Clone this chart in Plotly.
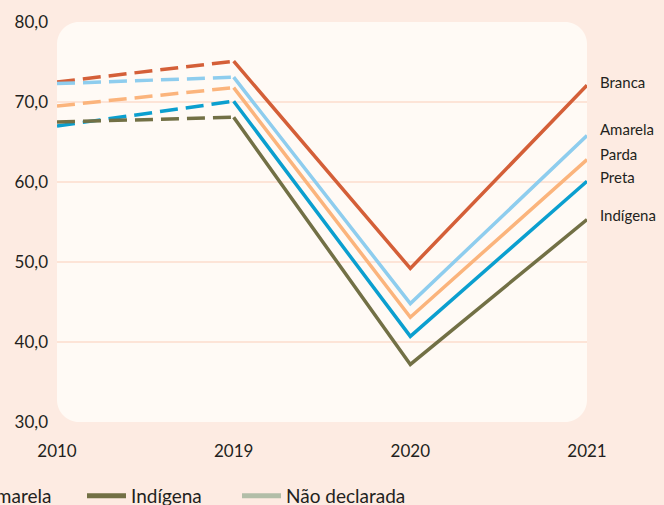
import plotly.graph_objects as go

years = ["2010", "2019", "2020", "2021"]
groups = ["Branca", "Preta", "Parda", "Amarela", "Indígena"]
branca = [72.5, 75.1, 49.2, 72.1]
preta = [67.0, 70.1, 40.7, 60.1]
parda = [69.5, 71.8, 43.1, 62.8]
amarela = [72.3, 73.1, 44.8, 65.8]
indigena = [67.5, 68.1, 37.2, 55.3]
values = {"Branca": branca, "Preta": preta, "Parda": parda,
          "Amarela": amarela, "Indígena": indigena}
legend_names = ["Amarela", "Indígena", "Não declarada"]
y_ticks = [30, 40, 50, 60, 70, 80]

colors = {"Branca": "#d45f38", "Preta": "#0b9fcf", "Parda": "#fbb47c",
          "Amarela": "#8ecdee", "Indígena": "#727045", "Não declarada": "#b2bea8"}
label_shift = {"Branca": 3, "Amarela": 7, "Parda": 6, "Preta": 4, "Indígena": 5}
legend_w = {"Amarela": 94, "Indígena": 101, "Não declarada": 130}

FONT = "Lato"
TXT = "#231f20"

fig = go.Figure()
for g in groups:
    v = values[g]
    fig.add_trace(go.Scatter(x=years[:2], y=v[:2], mode="lines", showlegend=False,
                             line=dict(color=colors[g], width=3.5, dash="18px,8px"),
                             hoverinfo="skip"))
    fig.add_trace(go.Scatter(x=years[1:], y=v[1:], mode="lines", showlegend=False,
                             line=dict(color=colors[g], width=3.5), hoverinfo="skip"))

for n in legend_names:
    fig.add_trace(go.Scatter(x=[None], y=[None], mode="lines", name=n,
                             line=dict(color=colors[n], width=5),
                             legendwidth=legend_w[n]))

for g in groups:
    fig.add_annotation(x=1, y=values[g][-1], xref="paper", yref="y",
                       text=g, showarrow=False, xanchor="left", yanchor="middle",
                       xshift=11, yshift=label_shift[g],
                       font=dict(family=FONT, size=15, color=TXT))

rx, ry = 22 / 530, 22 / 400
k = 0.4477
path = (f"M {rx},0 L {1-rx},0 C {1-rx*k},0 1,{ry*k} 1,{ry} "
        f"L 1,{1-ry} C 1,{1-ry*k} {1-rx*k},1 {1-rx},1 "
        f"L {rx},1 C {rx*k},1 0,{1-ry*k} 0,{1-ry} "
        f"L 0,{ry} C 0,{ry*k} {rx*k},0 {rx},0 Z")
fig.add_shape(type="path", path=path, xref="paper", yref="paper",
              fillcolor="#fffaf5", line=dict(width=0), layer="below")

fig.update_layout(
    width=664, height=505,
    margin=dict(l=57, r=77, t=22, b=83, autoexpand=False),
    paper_bgcolor="#fdebe2", plot_bgcolor="rgba(0,0,0,0)",
    separators=",.",
    font=dict(family=FONT, color=TXT),
    showlegend=True,
    legend=dict(orientation="h", x=(-66 - 57) / 530, xanchor="left",
                y=(421.7 - 495.5) / 400, yanchor="middle",
                itemwidth=39, bgcolor="rgba(0,0,0,0)",
                font=dict(family=FONT, size=19, color=TXT)),
    xaxis=dict(type="category", range=[0, 3], showgrid=False, zeroline=False,
               showline=False, ticks="", ticklabelstandoff=17,
               tickfont=dict(family=FONT, size=17, color=TXT)),
    yaxis=dict(range=[30, 80], tickvals=y_ticks, tickformat=".1f",
               showgrid=True, gridcolor="#fde4d7", gridwidth=2, zeroline=False,
               showline=False, ticks="", ticklabelstandoff=8,
               tickfont=dict(family=FONT, size=17, color=TXT)),
)

fig.write_html("out.html", config={"displayModeBar": False},
               post_script="document.body.style.margin='0';")
